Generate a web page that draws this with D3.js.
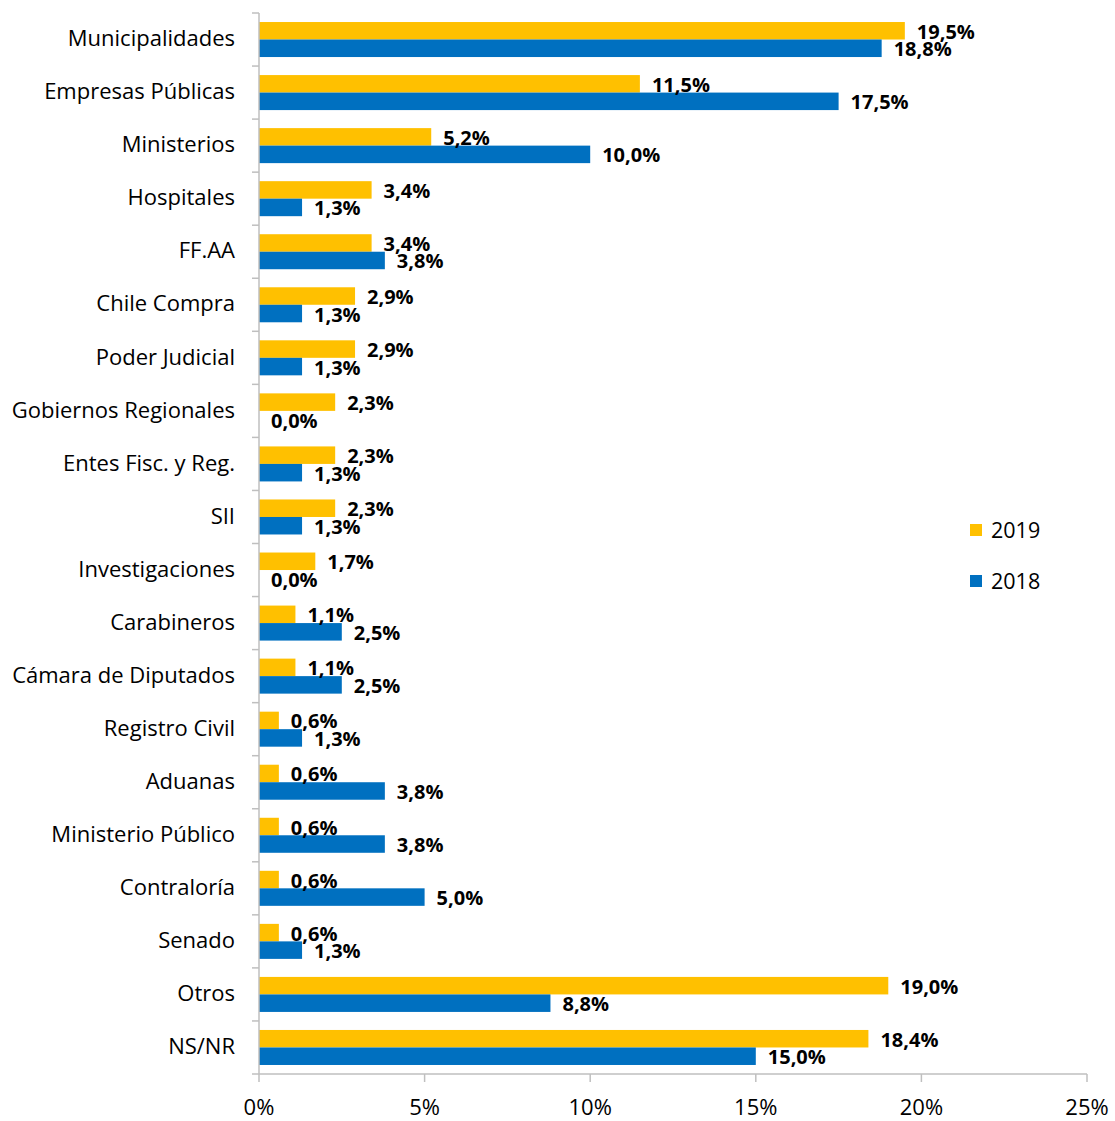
<!DOCTYPE html>
<html><head><meta charset="utf-8">
<script src="https://cdn.jsdelivr.net/npm/d3@7"></script>
<style>body{margin:0;background:#fff}svg{display:block}text{font-family:"Open Sans",Lato,sans-serif}</style>
</head><body>
<svg id="c" width="1115" height="1121"></svg>
<script>
const categories = ["Municipalidades","Empresas Públicas","Ministerios","Hospitales","FF.AA","Chile Compra","Poder Judicial","Gobiernos Regionales","Entes Fisc. y Reg.","SII","Investigaciones","Carabineros","Cámara de Diputados","Registro Civil","Aduanas","Ministerio Público","Contraloría","Senado","Otros","NS/NR"];
const values2019 = [19.5,11.5,5.2,3.4,3.4,2.9,2.9,2.3,2.3,2.3,1.7,1.1,1.1,0.6,0.6,0.6,0.6,0.6,19.0,18.4];
const values2018 = [18.8,17.5,10.0,1.3,3.8,1.3,1.3,0.0,1.3,1.3,0.0,2.5,2.5,1.3,3.8,3.8,5.0,1.3,8.8,15.0];
const seriesNames = ["2019","2018"];
const xTicks = [0,5,10,15,20,25];
const colors = {"2019":"#FFC000","2018":"#0070C0"};

(function(){
const svg = d3.select("#c");
const mLeft = 259, mRight = 1087, mTop = 13, mBottom = 1074;
const x = d3.scaleLinear().domain([0,25]).range([mLeft,mRight]);
const y = d3.scaleBand().domain(categories).range([mTop,mBottom]).paddingInner(0.34).paddingOuter(0.17);
const y2 = d3.scaleBand().domain(seriesNames).range([0,y.bandwidth()]);
const yb = d3.scaleBand().domain(categories).range([mTop,mBottom]);

const data = categories.map((c,i)=>({c, v:{"2019":values2019[i],"2018":values2018[i]}}));

const g = svg.append("g");
data.forEach(d=>{
  seriesNames.forEach(s=>{
    g.append("rect").attr("x",x(0)).attr("y",y(d.c)+y2(s)).attr("width",x(d.v[s])-x(0)).attr("height",y2.bandwidth())
      .attr("fill",colors[s]);
  });
});
const fmt = v=>v.toFixed(1).replace(".",",")+"%";
data.forEach(d=>{
  seriesNames.forEach(s=>{
    g.append("text").attr("x",x(d.v[s])+12).attr("y",y(d.c)+y2(s)+y2.bandwidth()/2+1).attr("dy","0.35em")
      .attr("font-size",20).attr("font-weight","bold").attr("fill","#000").text(fmt(d.v[s]));
  });
});

svg.append("line").attr("x1",mLeft).attr("x2",mLeft).attr("y1",mTop).attr("y2",mBottom).attr("stroke","#BFBFBF").attr("stroke-width",1.5);
categories.concat([null]).forEach((c,i)=>{
  const yy = c===null? mBottom : yb(c);
  svg.append("line").attr("x1",mLeft-7).attr("x2",mLeft).attr("y1",yy).attr("y2",yy).attr("stroke","#BFBFBF").attr("stroke-width",1.5);
});
categories.forEach(c=>{
  svg.append("text").attr("x",235).attr("y",yb(c)+yb.bandwidth()/2-1).attr("dy","0.35em").attr("text-anchor","end")
    .attr("font-size",22).attr("fill","#000").text(c);
});
svg.append("line").attr("x1",mLeft).attr("x2",mRight).attr("y1",mBottom).attr("y2",mBottom).attr("stroke","#BFBFBF").attr("stroke-width",1.5);
xTicks.forEach(t=>{
  svg.append("line").attr("x1",x(t)).attr("x2",x(t)).attr("y1",mBottom).attr("y2",mBottom+8).attr("stroke","#BFBFBF").attr("stroke-width",1.5);
  svg.append("text").attr("x",x(t)).attr("y",1107).attr("dy","0.35em").attr("text-anchor","middle").attr("font-size",22).attr("fill","#000").text(t+"%");
});
seriesNames.forEach((s,i)=>{
  const ly = 530 + i*51;
  svg.append("rect").attr("x",970).attr("y",ly-6).attr("width",12).attr("height",12).attr("fill",colors[s]);
  svg.append("text").attr("x",991).attr("y",ly).attr("dy","0.35em").attr("font-size",21.5).attr("fill","#000").text(s);
});
})();
</script>
</body></html>
